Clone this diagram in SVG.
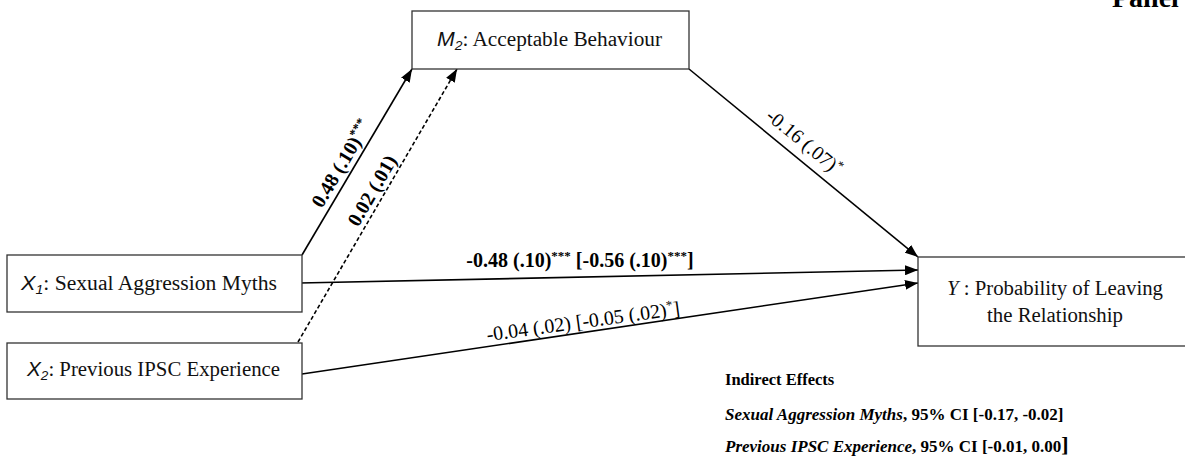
<svg xmlns="http://www.w3.org/2000/svg" width="1185" height="470" viewBox="0 0 1185 470">
<style>
.box{fill:#fff;stroke:#333;stroke-width:1.3}
.lbl{font-family:"Liberation Serif","Times New Roman",serif;font-size:20px;fill:#111}
.var{font-family:"Liberation Sans",Arial,sans-serif;font-style:italic}
.sub{font-family:"Liberation Sans",Arial,sans-serif;font-style:italic;font-size:13px}
.edge{stroke:#000;stroke-width:1.6;fill:none}
.dash{stroke-dasharray:4 2.5}
.el{font-family:"Liberation Serif","Times New Roman",serif;font-size:20px;fill:#000;text-anchor:middle}
.b{font-weight:bold}
.sup{font-size:13px}
.note{font-family:"Liberation Serif","Times New Roman",serif;font-size:16.5px;font-weight:bold;fill:#000}
.note2{font-size:17px}
</style>
<defs>
<marker id="arr" markerUnits="userSpaceOnUse" markerWidth="13" markerHeight="10" refX="13" refY="5" orient="auto">
<path d="M0,0 L13,5 L0,10 z" fill="#000" stroke="none"/>
</marker>
</defs>
<rect width="1185" height="470" fill="#fff"/>
<text x="1112" y="7" style="font-family:'Liberation Serif',serif;font-size:28px;font-weight:bold">Panel</text>
<g id="connectors">
<line class="edge" x1="302" y1="255" x2="412" y2="69" marker-end="url(#arr)"/>
<line class="edge dash" x1="298" y1="342" x2="457" y2="69" marker-end="url(#arr)"/>
<line class="edge" x1="689" y1="69" x2="918" y2="257" marker-end="url(#arr)"/>
<line class="edge" x1="300" y1="283" x2="918" y2="270" marker-end="url(#arr)"/>
<line class="edge" x1="302" y1="374" x2="918" y2="283" marker-end="url(#arr)"/>
<text class="el b" transform="translate(347,167) rotate(-59.3)">0.48 (.10)<tspan class="sup" dy="-7">***</tspan></text>
<text class="el b" transform="translate(378,194) rotate(-59.8)">0.02 (.01)</text>
<text class="el" transform="translate(800,147) rotate(39.5)">-0.16 (.07)<tspan class="sup" dy="-7">*</tspan></text>
<text class="el b" x="580" y="267">-0.48 (.10)<tspan class="sup" dy="-7">***</tspan><tspan dy="7"> [-0.56 (.10)</tspan><tspan class="sup" dy="-7">***</tspan><tspan dy="7">]</tspan></text>
<text class="el" transform="translate(584,328) rotate(-7.8)">-0.04 (.02) [-0.05 (.02)<tspan class="sup" dy="-7">*</tspan><tspan dy="7">]</tspan></text>
</g>
<g id="node-m2">
<rect class="box" x="412" y="11" width="277" height="58"/>
<text class="lbl" x="437" y="46" textLength="225" lengthAdjust="spacingAndGlyphs"><tspan class="var">M</tspan><tspan class="sub" dy="4">2</tspan><tspan dy="-4">: Acceptable Behaviour</tspan></text>
</g>
<g id="node-x1">
<rect class="box" x="7" y="255" width="295" height="57"/>
<text class="lbl" x="21" y="290" textLength="256" lengthAdjust="spacingAndGlyphs"><tspan class="var">X</tspan><tspan class="sub" dy="4">1</tspan><tspan dy="-4">: Sexual Aggression Myths</tspan></text>
</g>
<g id="node-x2">
<rect class="box" x="7" y="343" width="295" height="56"/>
<text class="lbl" x="27" y="376" textLength="253" lengthAdjust="spacingAndGlyphs"><tspan class="var">X</tspan><tspan class="sub" dy="4">2</tspan><tspan dy="-4">: Previous IPSC Experience</tspan></text>
</g>
<g id="node-y">
<rect class="box" x="918" y="257" width="285" height="89"/>
<text class="lbl" x="947" y="295" textLength="216" lengthAdjust="spacingAndGlyphs"><tspan font-style="italic">Y</tspan> : Probability  of Leaving</text>
<text class="lbl" x="987" y="322" textLength="136" lengthAdjust="spacingAndGlyphs">the Relationship</text>
</g>
<g id="indirect-effects">
<text class="note" x="725" y="385">Indirect Effects</text>
<text class="note note2" x="725" y="420"><tspan font-style="italic">Sexual Aggression Myths</tspan>, 95% CI [-0.17, -0.02]</text>
<text class="note note2" x="725" y="452"><tspan font-style="italic">Previous IPSC Experience</tspan>, 95% CI [-0.01, 0.00<tspan font-size="22px">]</tspan></text>
</g>
</svg>
